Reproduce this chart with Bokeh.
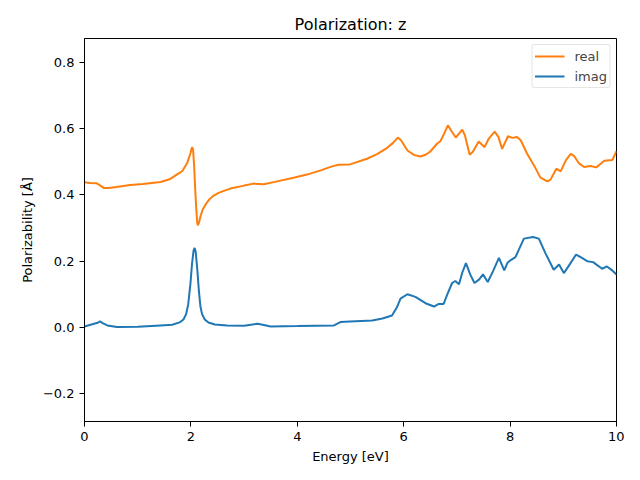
from bokeh.plotting import figure
from bokeh.models import FixedTicker, Range1d, Legend, LegendItem
from bokeh.embed import file_html
from bokeh.resources import INLINE

energy_real = [0.0, 0.1, 0.23, 0.3, 0.36, 0.45, 0.6, 0.86, 1.1, 1.43, 1.6, 1.74, 1.84, 1.93, 1.99,
               2.02, 2.04, 2.06, 2.08, 2.10, 2.12, 2.13, 2.15, 2.18, 2.22, 2.28, 2.35, 2.43, 2.52,
               2.62, 2.74, 3.0, 3.18, 3.37,
               3.6, 3.93, 4.2, 4.44, 4.65, 4.78, 4.99, 5.31, 5.5, 5.69, 5.80, 5.89, 5.95, 6.07,
               6.2, 6.32, 6.42, 6.50, 6.63, 6.69, 6.76, 6.83, 6.90, 6.98, 7.04, 7.10, 7.15, 7.24,
               7.30, 7.41, 7.52, 7.60, 7.71, 7.78, 7.85, 7.96, 8.04, 8.13, 8.20, 8.32, 8.45, 8.57,
               8.70, 8.76, 8.87, 8.95, 9.05, 9.14, 9.20, 9.29, 9.39, 9.51, 9.62, 9.77, 9.92, 10.0]
real_vals = [0.438, 0.436, 0.435, 0.428, 0.421, 0.421, 0.424, 0.430, 0.433, 0.439, 0.447, 0.462,
             0.472, 0.496, 0.525, 0.544, 0.538, 0.490, 0.420, 0.360, 0.315, 0.308, 0.315, 0.335,
             0.355, 0.372, 0.387, 0.398, 0.406,
             0.412, 0.419, 0.428, 0.434, 0.432, 0.440, 0.452, 0.462, 0.474, 0.486, 0.491, 0.492,
             0.509, 0.523, 0.542, 0.557, 0.573, 0.565, 0.534, 0.520, 0.516, 0.522, 0.531, 0.555,
             0.562, 0.585, 0.610, 0.592, 0.573, 0.585, 0.597, 0.580, 0.521, 0.530, 0.561, 0.544,
             0.570, 0.591, 0.575, 0.539, 0.577, 0.572, 0.575, 0.565, 0.524, 0.489, 0.452, 0.441,
             0.446, 0.479, 0.471, 0.505, 0.524, 0.518, 0.496, 0.484, 0.487, 0.483, 0.503, 0.505,
             0.532]

energy_imag = [0.0, 0.18, 0.25, 0.29, 0.35, 0.43, 0.61, 1.0, 1.43, 1.65, 1.80, 1.86, 1.91, 1.95,
               1.99, 2.02, 2.05, 2.07, 2.09, 2.12, 2.15, 2.18, 2.21, 2.26, 2.33, 2.45, 2.68, 3.0,
               3.25, 3.35, 3.50, 4.0, 4.69,
               4.81, 4.99, 5.41, 5.6, 5.78, 5.87, 5.94, 6.07, 6.22, 6.41, 6.57, 6.66, 6.75, 6.82,
               6.91, 6.97, 7.04, 7.10, 7.17, 7.25, 7.33, 7.42, 7.49, 7.58, 7.68, 7.79, 7.89, 7.95,
               8.02, 8.10, 8.18, 8.26, 8.43, 8.54, 8.67, 8.82, 8.92, 9.01, 9.10, 9.24, 9.35, 9.45,
               9.56, 9.73, 9.82, 9.92, 10.0]
imag_vals = [0.003, 0.011, 0.014, 0.018, 0.012, 0.006, 0.001, 0.002, 0.006, 0.008, 0.016, 0.024,
             0.040, 0.070, 0.130, 0.190, 0.232, 0.240, 0.228, 0.175, 0.110, 0.062, 0.040, 0.024,
             0.015, 0.009, 0.006, 0.005, 0.011,
             0.008, 0.003, 0.004, 0.006, 0.016, 0.018, 0.021, 0.027, 0.036, 0.060, 0.087, 0.100,
             0.092, 0.073, 0.063, 0.071, 0.071, 0.100, 0.134, 0.140, 0.130, 0.165, 0.194, 0.160,
             0.134, 0.145, 0.160, 0.137, 0.170, 0.210, 0.172, 0.195, 0.204, 0.212, 0.240, 0.268,
             0.273, 0.268, 0.222, 0.174, 0.190, 0.164, 0.185, 0.220, 0.210, 0.200, 0.197, 0.177,
             0.184, 0.172, 0.160]

x_ticks = [0, 2, 4, 6, 8, 10]
y_ticks = [-0.2, 0.0, 0.2, 0.4, 0.6, 0.8]
y_tick_labels = {-0.2: "\u22120.2", 0.0: "0.0", 0.2: "0.2", 0.4: "0.4", 0.6: "0.6", 0.8: "0.8"}

FONT = "DejaVu Sans"

p = figure(width=624, height=466, output_backend="svg", toolbar_location=None,
           x_range=Range1d(0, 10), y_range=Range1d(-0.284, 0.872),
           min_border_left=84, min_border_right=8, min_border_top=38, min_border_bottom=44)

p.title.text = "Polarization: z"
p.title.align = "center"
p.title.text_font = FONT
p.title.text_font_size = "16px"
p.title.text_font_style = "normal"
p.title.text_color = "black"
p.title.offset = 0

p.xgrid.visible = False
p.ygrid.visible = False
p.outline_line_color = "black"
p.outline_line_width = 1
p.outline_line_alpha = 1

for ax in (p.xaxis[0], p.yaxis[0]):
    ax.axis_line_color = "black"
    ax.major_tick_line_color = "black"
    ax.major_tick_out = 5
    ax.major_tick_in = 0
    ax.minor_tick_line_color = None
    ax.major_label_text_font = FONT
    ax.major_label_text_font_size = "13px"
    ax.major_label_text_color = "black"
    ax.axis_label_text_font = FONT
    ax.axis_label_text_font_size = "13px"
    ax.axis_label_text_font_style = "normal"
    ax.axis_label_text_color = "black"

p.xaxis[0].ticker = FixedTicker(ticks=x_ticks)
p.yaxis[0].ticker = FixedTicker(ticks=y_ticks)
p.yaxis[0].major_label_overrides = y_tick_labels
p.xaxis[0].axis_label = "Energy [eV]"
p.yaxis[0].axis_label = "Polarizability [Å]"

r_real = p.line(energy_real, real_vals, line_color="#ff7f0e", line_width=2)
r_imag = p.line(energy_imag, imag_vals, line_color="#1f77b4", line_width=2)

legend = Legend(items=[LegendItem(label="real", renderers=[r_real]),
                       LegendItem(label="imag", renderers=[r_imag])],
                location="top_right")
legend.label_text_font = FONT
legend.label_text_font_size = "13px"
legend.border_line_color = "#cccccc"
legend.border_line_width = 1
legend.border_radius = 3
legend.background_fill_alpha = 0.8
legend.glyph_width = 30
legend.glyph_height = 18
legend.label_height = 18
legend.label_standoff = 10
legend.spacing = 2
legend.padding = 2
legend.margin = 6
p.add_layout(legend)

open("out.html", "w").write(file_html(p, INLINE))
